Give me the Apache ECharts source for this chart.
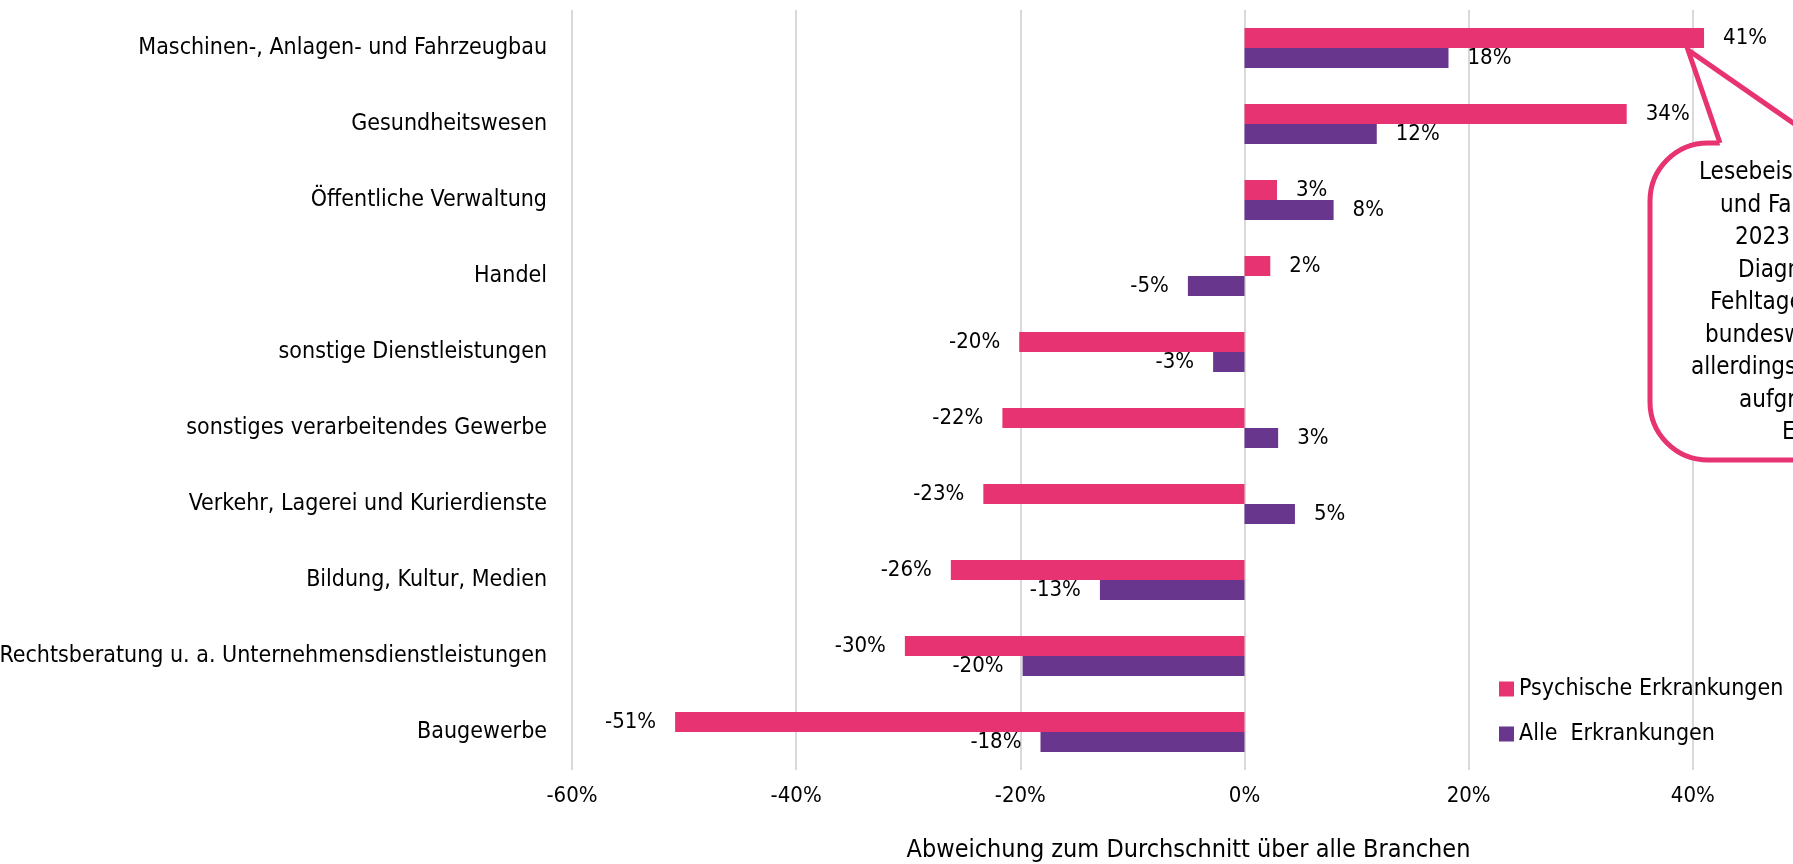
<!DOCTYPE html>
<html>
<head>
<meta charset="utf-8">
<script src="https://cdn.jsdelivr.net/npm/echarts@6/dist/echarts.min.js"></script>
<style>
  html, body { margin: 0; padding: 0; background: #fff; }
  #chart { width: 1793px; height: 864px; }
</style>
</head>
<body>
<div id="chart"></div>
<script>
const categories = [
  'Maschinen-, Anlagen- und Fahrzeugbau',
  'Gesundheitswesen',
  'Öffentliche Verwaltung',
  'Handel',
  'sonstige Dienstleistungen',
  'sonstiges verarbeitendes Gewerbe',
  'Verkehr, Lagerei und Kurierdienste',
  'Bildung, Kultur, Medien',
  'Rechtsberatung u. a. Unternehmensdienstleistungen',
  'Baugewerbe'
];
const psychisch = [41, 34.1, 2.9, 2.3, -20.1, -21.6, -23.3, -26.2, -30.3, -50.8];
const alle = [18.2, 11.8, 7.95, -5.05, -2.8, 3.0, 4.5, -12.9, -19.8, -18.2];
const seriesNames = ['Psychische Erkrankungen', 'Alle  Erkrankungen'];
const xTicks = { min: -60, max: 60, step: 20 };
const calloutLines = [
  'Lesebeispiel: Maschinen-, Anlagen-',
  'und Fahrzeugbau hatte im Jahr',
  '2023 bei psychischen',
  'Diagnosen 41 % mehr',
  'Fehltage als der',
  'bundesweite Durchschnitt,',
  'allerdings bei insgesamt',
  'aufgrund geringerer',
  'Erkrankungszahlen.'
];
const axisTitle = 'Abweichung zum Durchschnitt über alle Branchen';

const FONT = "'DejaVu Sans Condensed', 'DejaVu Sans', sans-serif";
const PINK = '#e83372';
const PURPLE = '#68368c';

// start x of each callout line (the box runs off the right edge)
const calloutX = [1699, 1720, 1735, 1738, 1710, 1705, 1691, 1739, 1782];

const withLabelSide = (values) => values.map((v) => ({
  value: v,
  label: { position: v < 0 ? 'left' : 'right' }
}));

const chart = echarts.init(document.getElementById('chart'));

const barLabel = {
  show: true,
  distance: 19,
  color: '#000',
  fontFamily: FONT,
  fontSize: 22,
  formatter: (p) => Math.round(p.value) + '%'
};

const option = {
  animation: false,
  backgroundColor: '#fff',
  textStyle: { fontFamily: FONT },
  grid: {
    left: 572,
    top: 10,
    width: 1345,
    height: 760,
    outerBoundsMode: 'none'
  },
  legend: {
    orient: 'vertical',
    left: 1499,
    top: 674,
    padding: 0,
    itemWidth: 15,
    itemHeight: 15,
    itemGap: 15,
    icon: 'rect',
    data: seriesNames,
    textStyle: { color: '#000', fontFamily: FONT, fontSize: 23, lineHeight: 30 }
  },
  xAxis: {
    type: 'value',
    min: xTicks.min,
    max: xTicks.max,
    interval: xTicks.step,
    axisLine: { show: false },
    axisTick: { show: false },
    splitLine: { lineStyle: { color: '#d9d9d9', width: 2 } },
    axisLabel: {
      color: '#000',
      fontFamily: FONT,
      fontSize: 22,
      margin: 15,
      formatter: (v) => v + '%'
    },
    name: axisTitle,
    nameLocation: 'middle',
    nameGap: 68,
    nameTextStyle: {
      color: '#000',
      fontFamily: FONT,
      fontSize: 25,
      padding: [0, 112, 0, 0]
    }
  },
  yAxis: {
    type: 'category',
    inverse: true,
    data: categories,
    axisLine: { show: false, onZero: false },
    axisTick: { show: false },
    splitLine: { show: false },
    axisLabel: {
      color: '#000',
      fontFamily: FONT,
      fontSize: 23,
      margin: 25
    }
  },
  series: [
    {
      name: seriesNames[0],
      type: 'bar',
      barWidth: 20,
      barGap: '0%',
      itemStyle: { color: PINK },
      label: barLabel,
      data: withLabelSide(psychisch)
    },
    {
      name: seriesNames[1],
      type: 'bar',
      barWidth: 20,
      barGap: '0%',
      itemStyle: { color: PURPLE },
      label: barLabel,
      data: withLabelSide(alle)
    }
  ],
  graphic: [
    {
      type: 'rect',
      z: 100,
      shape: { x: 1650, y: 143, width: 700, height: 317, r: 58 },
      style: { fill: '#fff', stroke: PINK, lineWidth: 5 }
    },
    {
      type: 'polygon',
      z: 101,
      shape: { points: [[1721, 148], [1688, 50], [1823, 148]] },
      style: { fill: '#fff' }
    },
    {
      type: 'polyline',
      z: 102,
      shape: { points: [[1720, 143], [1688, 50], [1822, 143]] },
      style: { fill: null, stroke: PINK, lineWidth: 5, lineJoin: 'miter' }
    },
    ...calloutLines.map((line, i) => ({
      type: 'text',
      z: 103,
      x: calloutX[i],
      y: 173 + 32.5 * i,
      style: {
        text: line,
        fill: '#000',
        font: '24px ' + FONT,
        textAlign: 'left',
        textVerticalAlign: 'middle'
      }
    }))
  ]
};

chart.setOption(option);
</script>
</body>
</html>
